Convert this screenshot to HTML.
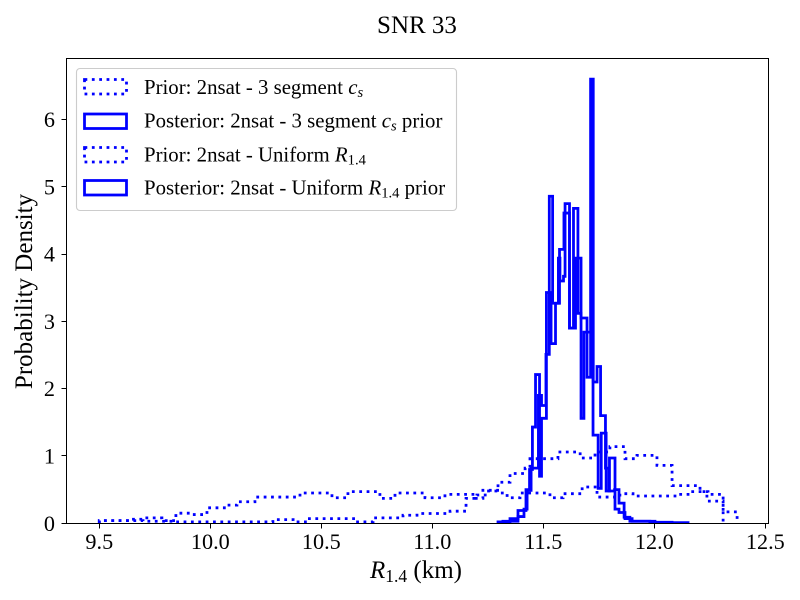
<!DOCTYPE html>
<html lang="en">
<head>
<meta charset="utf-8">
<title>SNR 33</title>
<style>
html,body{margin:0;padding:0;background:#fff;}
svg{display:block;}
text{font-family:"Liberation Serif",serif;fill:#000;}
</style>
</head>
<body>
<svg id="chart" xmlns="http://www.w3.org/2000/svg" width="800" height="600" viewBox="0 0 800 600">
  <defs><clipPath id="plot-clip"><rect x="66.5" y="58.5" width="702" height="465"></rect></clipPath></defs>
  <rect width="800" height="600" fill="#fff"></rect>
  <text x="417" y="33" font-size="25" text-anchor="middle">SNR 33</text>
  <g id="series" clip-path="url(#plot-clip)"></g>
  <rect x="66.5" y="58.5" width="702" height="465" fill="none" stroke="#000" stroke-width="1"></rect>
  <g id="ticks"></g>
  <text x="416" y="578" font-size="25" text-anchor="middle"><tspan font-style="italic">R</tspan><tspan font-size="17.5" dy="4">1.4</tspan><tspan dy="-4"> (km)</tspan></text>
  <text transform="translate(32 291.5) rotate(-90)" font-size="25" text-anchor="middle">Probability Density</text>
  <g>
    <rect x="76.5" y="68.5" width="380" height="142" rx="3.5" fill="#fff" fill-opacity="0.8" stroke="#ccc" stroke-width="1.1"></rect>
    <rect x="84.5" y="79.5" width="42" height="14.5" fill="none" stroke="#0000ff" stroke-width="2.78" stroke-dasharray="2.78 4.58"></rect>
    <text x="144" y="94" font-size="20.83">Prior: 2nsat - 3 segment <tspan font-style="italic">c</tspan><tspan font-style="italic" font-size="14.6" dy="3">s</tspan></text>
    <rect x="84.5" y="114" width="42" height="14.5" fill="none" stroke="#0000ff" stroke-width="2.78"></rect>
    <text x="144" y="127.5" font-size="20.83">Posterior: 2nsat - 3 segment <tspan font-style="italic">c</tspan><tspan font-style="italic" font-size="14.6" dy="3">s</tspan><tspan dy="-3"> prior</tspan></text>
    <rect x="84.5" y="147.5" width="42" height="14.5" fill="none" stroke="#0000ff" stroke-width="2.78" stroke-dasharray="2.78 4.58"></rect>
    <text x="144" y="161.5" font-size="20.83">Prior: 2nsat - Uniform <tspan font-style="italic">R</tspan><tspan font-size="14.6" dy="3">1.4</tspan></text>
    <rect x="84.5" y="180.5" width="42" height="14.5" fill="none" stroke="#0000ff" stroke-width="2.78"></rect>
    <text x="144" y="194.5" font-size="20.83">Posterior: 2nsat - Uniform <tspan font-style="italic">R</tspan><tspan font-size="14.6" dy="3">1.4</tspan><tspan dy="-3"> prior</tspan></text>
  </g>
</svg>
<script>
const xTickValues = [9.5, 10, 10.5, 11, 11.5, 12, 12.5];
const xTickLabels = ['9.5', '10.0', '10.5', '11.0', '11.5', '12.0', '12.5'];
const yTickValues = [0, 1, 2, 3, 4, 5, 6];
const yTickLabels = ['0', '1', '2', '3', '4', '5', '6'];

const priorUpperEdges = [9.5, 9.638, 9.697, 9.782, 9.845, 9.909, 9.985, 10.075, 10.12, 10.201, 10.404, 10.548, 10.62, 10.764, 10.832, 10.967, 11.057, 11.183, 11.228, 11.305, 11.337, 11.395, 11.53, 11.589, 11.675, 11.742, 11.845, 11.904, 12.102, 12.161, 12.242, 12.31];
const priorUpperDensity = [0.04, 0.06, 0.08, 0.04, 0.15, 0.13, 0.23, 0.27, 0.32, 0.39, 0.45, 0.38, 0.47, 0.37, 0.45, 0.38, 0.43, 0.37, 0.49, 0.45, 0.38, 0.45, 0.38, 0.44, 0.54, 0.39, 0.44, 0.405, 0.43, 0.47, 0.43];

const priorLowerEdges = [9.5, 9.697, 9.832, 10.282, 10.373, 10.436, 10.652, 10.733, 10.868, 10.931, 11.08, 11.152, 11.201, 11.246, 11.296, 11.35, 11.418, 11.44, 11.566, 11.666, 11.733, 11.8, 11.868, 11.922, 12.012, 12.08, 12.206, 12.237, 12.31, 12.373];
const priorLowerDensity = [0.04, 0.03, 0.02, 0.055, 0.02, 0.07, 0.02, 0.08, 0.12, 0.145, 0.18, 0.37, 0.42, 0.48, 0.61, 0.74, 0.82, 0.96, 1.06, 0.97, 1.06, 1.14, 0.96, 1.01, 0.86, 0.56, 0.47, 0.33, 0.17];

const posteriorAEdges = [11.296, 11.35, 11.386, 11.422, 11.438, 11.451, 11.465, 11.483, 11.492, 11.514, 11.535, 11.555, 11.573, 11.593, 11.618, 11.636, 11.656, 11.67, 11.697, 11.713, 11.725, 11.742, 11.758, 11.78, 11.796, 11.821, 11.841, 11.864, 11.89, 11.98, 12.152];
const posteriorADensity = [0.02, 0.07, 0.19, 0.5, 0.8, 1.43, 2.21, 0.7, 1.56, 3.43, 2.67, 3.27, 4.07, 4.61, 2.9, 4.68, 3.12, 3.05, 2.17, 6.6, 2.1, 2.33, 1.6, 0.82, 0.48, 0.5, 0.3, 0.09, 0.03, 0.01];

const posteriorBEdges = [11.318, 11.386, 11.413, 11.427, 11.445, 11.478, 11.492, 11.512, 11.527, 11.542, 11.568, 11.575, 11.591, 11.598, 11.618, 11.645, 11.67, 11.683, 11.724, 11.747, 11.761, 11.783, 11.798, 11.823, 11.841, 11.868, 11.9, 12.003, 12.08];
const posteriorBDensity = [0.03, 0.1, 0.21, 0.49, 0.82, 1.9, 1.75, 2.51, 4.86, 3.27, 3.94, 3.6, 3.67, 4.75, 2.9, 3.94, 1.56, 2.84, 1.31, 0.52, 1.34, 0.48, 0.97, 0.21, 0.16, 0.07, 0.03, 0.015];

const NS = 'http://www.w3.org/2000/svg';
function xScale(v) { return 99.3 + 222 * (v - 9.5); }
function yScale(v) { return 523.3 - 67.3 * v; }

function stepPath(edges, heights) {
  let d = 'M' + xScale(edges[0]).toFixed(2) + ' ' + yScale(0).toFixed(2);
  heights.forEach(function (h, i) {
    const py = yScale(h).toFixed(2);
    d += 'L' + xScale(edges[i]).toFixed(2) + ' ' + py;
    d += 'L' + xScale(edges[i + 1]).toFixed(2) + ' ' + py;
  });
  d += 'L' + xScale(edges[edges.length - 1]).toFixed(2) + ' ' + yScale(0).toFixed(2);
  return d;
}

const seriesGroup = document.getElementById('series');

function drawPriorUpper() {
  const el = document.createElementNS(NS, 'path');
  
  
  el.setAttribute('d', stepPath(priorUpperEdges, priorUpperDensity));
  el.setAttribute('fill', 'none');
  el.setAttribute('stroke', '#0000ff');
  el.setAttribute('stroke-width', '2.78');
  el.setAttribute('stroke-dasharray', '2.78 4.58');
  seriesGroup.appendChild(el);
}
function drawPriorLower() {
  const el = document.createElementNS(NS, 'path');
  
  
  el.setAttribute('d', stepPath(priorLowerEdges, priorLowerDensity));
  el.setAttribute('fill', 'none');
  el.setAttribute('stroke', '#0000ff');
  el.setAttribute('stroke-width', '2.78');
  el.setAttribute('stroke-dasharray', '2.78 4.58');
  seriesGroup.appendChild(el);
}
function drawPosteriorA() {
  const el = document.createElementNS(NS, 'path');
  
  
  el.setAttribute('d', stepPath(posteriorAEdges, posteriorADensity));
  el.setAttribute('fill', 'none');
  el.setAttribute('stroke', '#0000ff');
  el.setAttribute('stroke-width', '2.78');
  el.setAttribute('stroke-linejoin', 'miter');
  seriesGroup.appendChild(el);
}
function drawPosteriorB() {
  const el = document.createElementNS(NS, 'path');
  
  
  el.setAttribute('d', stepPath(posteriorBEdges, posteriorBDensity));
  el.setAttribute('fill', 'none');
  el.setAttribute('stroke', '#0000ff');
  el.setAttribute('stroke-width', '2.78');
  el.setAttribute('stroke-linejoin', 'miter');
  seriesGroup.appendChild(el);
}
drawPriorUpper();
drawPriorLower();
drawPosteriorA();
drawPosteriorB();

const tickGroup = document.getElementById('ticks');
xTickValues.forEach(function (v, i) {
  const px = xScale(v);
  const snapped = Math.floor(px) + 0.5;
  const mark = document.createElementNS(NS, 'line');
  
  
  mark.setAttribute('x1', snapped);
  mark.setAttribute('x2', snapped);
  mark.setAttribute('y1', 523.5);
  mark.setAttribute('y2', 528.5);
  mark.setAttribute('stroke', '#000');
  mark.setAttribute('stroke-width', '1');
  tickGroup.appendChild(mark);
  const label = document.createElementNS(NS, 'text');
  
  
  label.setAttribute('x', px);
  label.setAttribute('y', 549);
  label.setAttribute('font-size', '22.2');
  label.setAttribute('text-anchor', 'middle');
  label.textContent = xTickLabels[i];
  tickGroup.appendChild(label);
});
yTickValues.forEach(function (v, i) {
  const py = yScale(v);
  const snapped = Math.floor(py) + 0.5;
  const mark = document.createElementNS(NS, 'line');
  
  
  mark.setAttribute('x1', 61.5);
  mark.setAttribute('x2', 66.5);
  mark.setAttribute('y1', snapped);
  mark.setAttribute('y2', snapped);
  mark.setAttribute('stroke', '#000');
  mark.setAttribute('stroke-width', '1');
  tickGroup.appendChild(mark);
  const label = document.createElementNS(NS, 'text');
  
  
  label.setAttribute('x', 55);
  label.setAttribute('y', py + 7.5);
  label.setAttribute('font-size', '22.2');
  label.setAttribute('text-anchor', 'end');
  label.textContent = yTickLabels[i];
  tickGroup.appendChild(label);
});
</script>
</body>
</html>
